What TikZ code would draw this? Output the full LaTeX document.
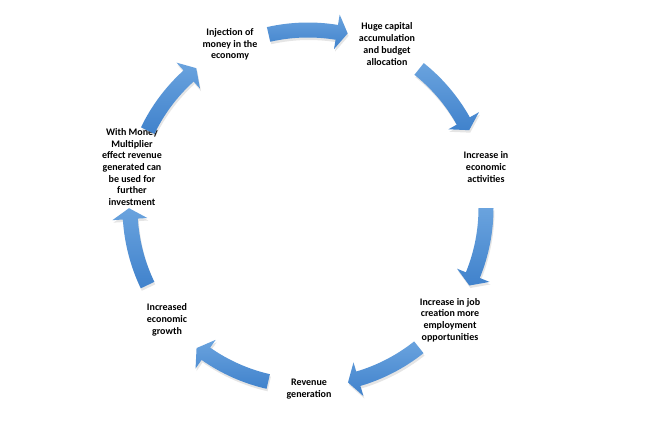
\documentclass[tikz,border=0pt]{standalone}
\usepackage{fontspec}
\setmainfont{Carlito}
\usetikzlibrary{shadows}
\definecolor{arrlight}{RGB}{106,163,222}
\definecolor{arrdark}{RGB}{64,130,204}
\begin{document}
\begin{tikzpicture}[x=1pt,y=1pt,
  lbl/.style={font=\fontsize{10}{11.7}\selectfont\bfseries, align=center, inner sep=0pt, text=black},
  cyclearrow/.style={top color=arrlight, bottom color=arrdark, draw=none,
    drop shadow={opacity=0.2, shadow xshift=1pt, shadow yshift=-2.5pt}}]
\fill[white] (0,0) rectangle (656,431);
\useasboundingbox (0,0) rectangle (656,431);
\coordinate (O) at (308,223);
% labels
\node[lbl] (inj) at (230,386.5) {Injection of\\money in the\\economy};
\node[lbl] (cap) at (387,387) {Huge capital\\accumulation\\and budget\\allocation};
\node[lbl] (act) at (486,264) {Increase in\\economic\\activities};
\node[lbl] (job) at (450,111) {Increase in job\\creation more\\employment\\opportunities};
\node[lbl] (rev) at (309,42) {Revenue\\generation};
\node[lbl] (gro) at (167,111) {Increased\\economic\\growth};
\node[lbl] (mon) at (132,264) {With Money\\Multiplier\\effect revenue\\generated can\\be used for\\further\\investment};
% arrows
\foreach \c in {90, 38.57, -12.86, -64.29, -115.71, -167.14, 141.43} {
  \begin{scope}[shift={(O)}]
  \path[cyclearrow] ({\c+12.8}:185.5pt)
    arc[start angle={\c+12.8}, end angle={\c-9.3}, radius=185.5pt]
    -- ({\c-9.3}:196pt) -- ({\c-12.8}:179pt) -- ({\c-9.3}:161pt)
    -- ({\c-9.3}:170.5pt)
    arc[start angle={\c-9.3}, end angle={\c+12.8}, radius=170.5pt] -- cycle;
  \end{scope}
}
\end{tikzpicture}
\end{document}
